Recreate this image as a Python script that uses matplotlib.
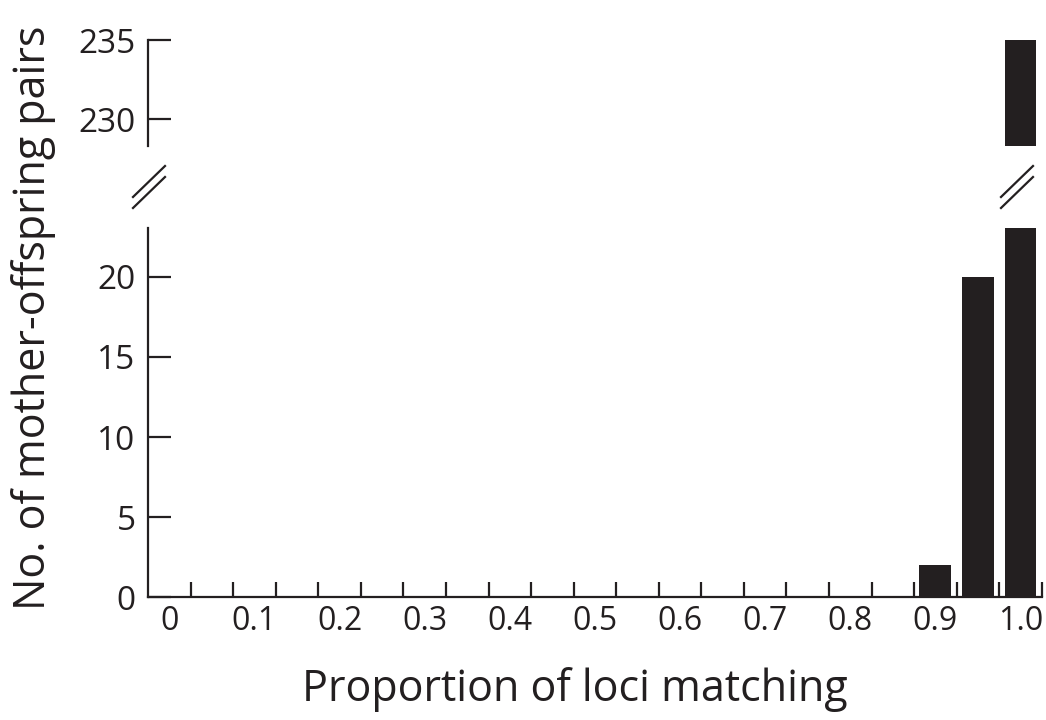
import numpy as np
import matplotlib.pyplot as plt
from matplotlib.lines import Line2D

# histogram of proportion of loci matching
bin_centers = [0.90, 0.95, 1.00]
pair_counts = [2, 20, 235]
label_vals = [0, 0.1, 0.2, 0.3, 0.4, 0.5, 0.6, 0.7, 0.8, 0.9, 1.0]
label_text = ['0', '0.1', '0.2', '0.3', '0.4', '0.5', '0.6', '0.7', '0.8', '0.9', '1.0']
low_yticks = [0, 5, 10, 15, 20]
high_yticks = [230, 235]

ink = '#231f20'
plt.rcParams['font.family'] = ['Open Sans', 'DejaVu Sans']
plt.rcParams['text.color'] = ink

fig = plt.figure(figsize=(10.46, 7.2), dpi=100)
ax_lo = fig.add_axes([0.1415, 0.1708, 0.8545, 0.5125])
ax_hi = fig.add_axes([0.1415, 0.797, 0.8545, 0.148])

bin_w = 0.05
edges = np.arange(-0.025 + bin_w, 1.03, bin_w)

for ax in (ax_lo, ax_hi):
    ax.bar(bin_centers, pair_counts, width=0.0375, color=ink, linewidth=0)
    ax.set_xlim(-0.025, 1.025)
    for s in ('top', 'right'):
        ax.spines[s].set_visible(False)
    ax.spines['left'].set_linewidth(1.6)
    ax.spines['left'].set_color(ink)
    ax.tick_params(axis='y', direction='in', length=16.5, width=1.6,
                   color=ink, labelsize=24, pad=9, labelcolor=ink)

ax_lo.set_ylim(0, 23.06)
ax_lo.set_yticks(low_yticks)
ax_lo.spines['bottom'].set_linewidth(1.6)
ax_lo.spines['bottom'].set_color(ink)
ax_lo.set_xticks(edges)
ax_lo.set_xticklabels([])
ax_lo.tick_params(axis='x', which='major', direction='in', length=11, width=1.6, color=ink)
ax_lo.set_xticks(label_vals, label_text, minor=True)
ax_lo.tick_params(axis='x', which='minor', length=0, labelsize=23, pad=6, labelcolor=ink)

ax_hi.set_ylim(228.3, 235.05)
ax_hi.set_yticks(high_yticks)
ax_hi.spines['bottom'].set_visible(False)
ax_hi.set_xticks([])

fig.text(0.55, 0.042, 'Proportion of loci matching', fontsize=31,
         ha='center', va='center')
fig.text(0.032, 0.558, 'No. of mother-offspring pairs', rotation=90,
         fontsize=31, ha='center', va='center')

# break marks
for x0, x1 in ((133 / 1046, 165 / 1046), (1001 / 1046, 1033 / 1046)):
    for dy in (0, 11):
        y0 = 1 - (197 + dy) / 720
        y1 = 1 - (166 + dy) / 720
        fig.add_artist(Line2D([x0, x1], [y0, y1], transform=fig.transFigure,
                              color=ink, linewidth=1.6))

fig.savefig('out.png', dpi=100)
